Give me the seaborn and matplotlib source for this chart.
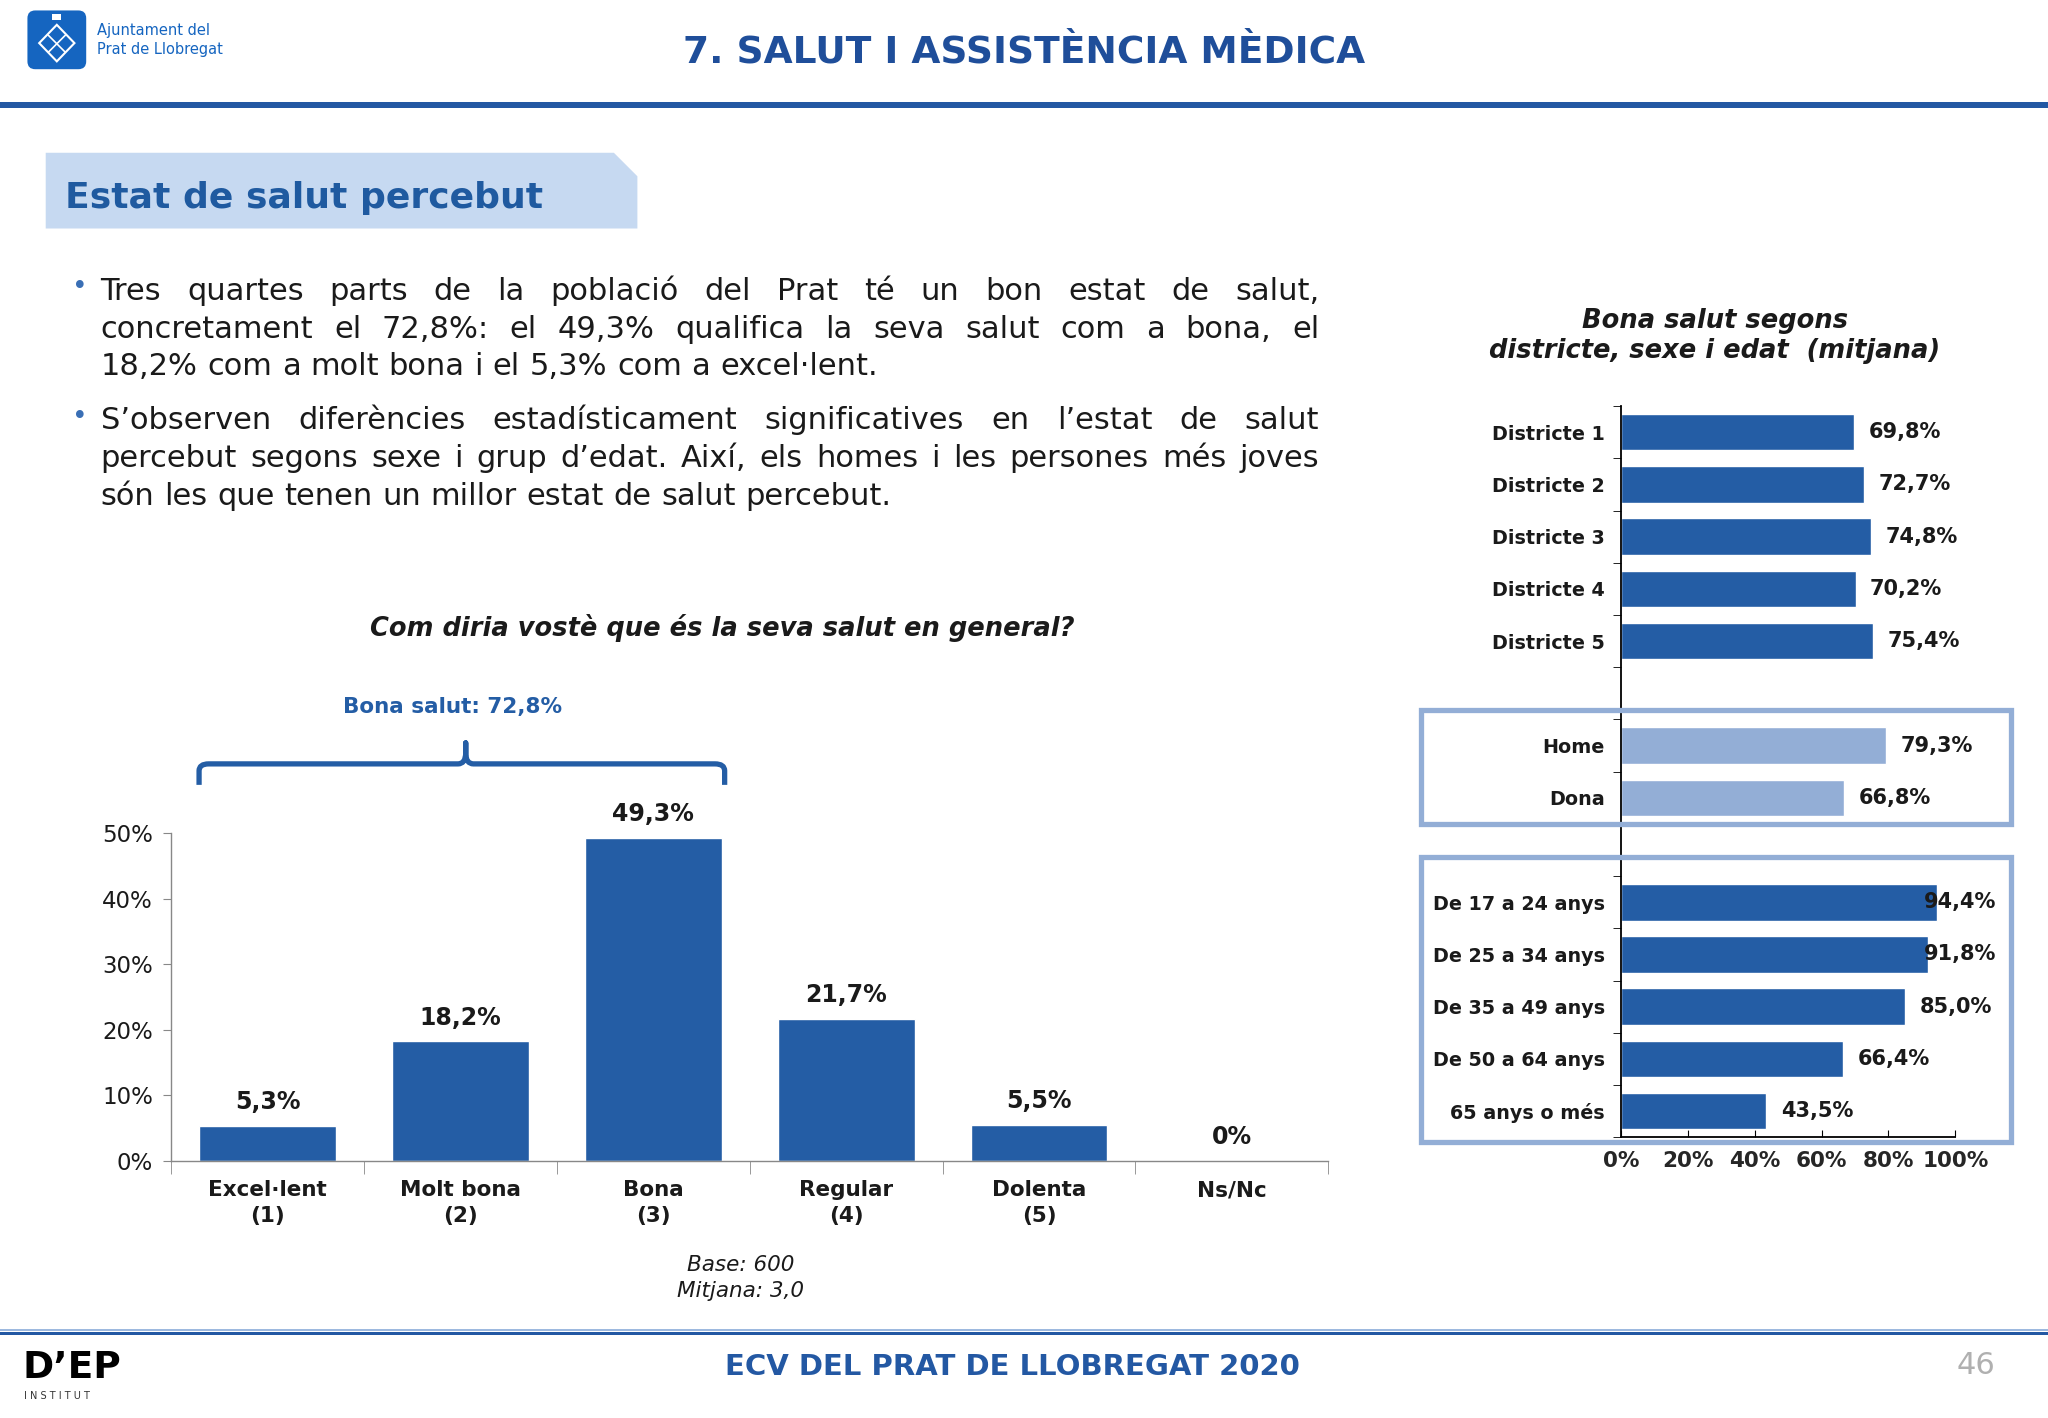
import numpy as np
import pandas as pd
import matplotlib
matplotlib.use('Agg')
import matplotlib.pyplot as plt
import seaborn as sns
from matplotlib.patches import Polygon, Rectangle, FancyBboxPatch, PathPatch
from matplotlib.path import Path
from matplotlib.transforms import blended_transform_factory
from matplotlib.ticker import FuncFormatter

# --- Data ---
categories = ['Excel·lent\n(1)', 'Molt bona\n(2)', 'Bona\n(3)', 'Regular\n(4)', 'Dolenta\n(5)', 'Ns/Nc']
pcts = [5.3, 18.2, 49.3, 21.7, 5.5, 0.0]

grups = ['Districte 1', 'Districte 2', 'Districte 3', 'Districte 4', 'Districte 5',
         'Home', 'Dona',
         'De 17 a 24 anys', 'De 25 a 34 anys', 'De 35 a 49 anys', 'De 50 a 64 anys', '65 anys o més']
bona_salut = [69.8, 72.7, 74.8, 70.2, 75.4, 79.3, 66.8, 94.4, 91.8, 85.0, 66.4, 43.5]
tipus = ['districte'] * 5 + ['sexe'] * 2 + ['edat'] * 5
ordre = grups[:5] + [' '] + grups[5:7] + ['  '] + grups[7:]

BLUE = '#245DA5'
LIGHT = '#93AED6'
DARK = '#1F4E9A'
TXT = '#1a1a1a'

W, H = 1568, 1086  # layout units (reference scaled)

sns.set_style('white')
plt.rcParams['font.family'] = ['DejaVu Sans']

fig = plt.figure(figsize=(20.48, 14.18), dpi=100)
bg = fig.add_axes([0, 0, 1, 1], zorder=0)
bg.set_xlim(0, W)
bg.set_ylim(H, 0)
bg.axis('off')

top = fig.add_axes([0, 0, 1, 1], zorder=5)
top.set_xlim(0, W)
top.set_ylim(H, 0)
top.axis('off')

# --- Header ---
bg.add_patch(FancyBboxPatch((21, 8), 45, 45, boxstyle='round,pad=0,rounding_size=6',
                            fc='#1565C0', ec='none'))
bg.add_patch(Polygon([(43.5, 19), (57, 33), (43.5, 47), (30, 33)], closed=True,
                     fill=False, ec='white', lw=1.5))
bg.plot([37, 50], [27, 40], color='white', lw=1.2)
bg.plot([50, 37], [27, 40], color='white', lw=1.2)
bg.add_patch(Rectangle((40, 11), 7, 4, fc='white', ec='none'))
bg.text(74, 23, 'Ajuntament del', fontsize=10.5, color='#1565C0', va='center')
bg.text(74, 38, 'Prat de Llobregat', fontsize=10.5, color='#1565C0', va='center')
bg.text(784, 40, '7. SALUT I ASSISTÈNCIA MÈDICA', ha='center', va='center',
        fontsize=27, fontweight='bold', color=DARK)
bg.add_patch(Rectangle((0, 78), W, 5, fc='#2358A3', ec='none'))

bg.add_patch(Polygon([(35, 117), (470, 117), (488, 135), (488, 175), (35, 175)],
                     closed=True, fc='#C6D9F1', ec='none'))
bg.text(50, 152, 'Estat de salut percebut', fontsize=26, fontweight='bold',
        color='#1F5AA0', va='center')

# --- Bullet text (justified) ---
renderer = fig.canvas.get_renderer()
scale = W / (fig.get_figwidth() * fig.dpi)
FS = 22


def text_width(s, fs):
    t = bg.text(0, 500, s, fontsize=fs)
    w = t.get_window_extent(renderer).width * scale
    t.remove()
    return w


def write_line(text, y, x0=77, x1=1010, justify=True, fs=FS):
    words = text.split(' ')
    objs = [bg.text(0, y, w, fontsize=fs, color=TXT, va='center') for w in words]
    widths = [o.get_window_extent(renderer).width * scale for o in objs]
    if justify and len(words) > 1:
        gap = (x1 - x0 - sum(widths)) / (len(words) - 1)
    else:
        gap = text_width('a b', fs) - text_width('ab', fs)
    x = x0
    for o, w in zip(objs, widths):
        o.set_x(x)
        x += w + gap


para1 = ['Tres quartes parts de la població del Prat té un bon estat de salut,',
         'concretament el 72,8%: el 49,3% qualifica la seva salut com a bona, el',
         '18,2% com a molt bona i el 5,3% com a excel·lent.']
para2 = ['S’observen diferències estadísticament significatives en l’estat de salut',
         'percebut segons sexe i grup d’edat. Així, els homes i les persones més joves',
         'són les que tenen un millor estat de salut percebut.']
for para, y0 in [(para1, 222), (para2, 321)]:
    bg.text(55, y0 - 2, '•', fontsize=19, color='#3A6FB5', va='center')
    for k, line in enumerate(para):
        write_line(line, y0 + 1 + 29 * k, justify=(k < len(para) - 1))

# --- Left chart ---
bg.text(553, 481, 'Com diria vostè que és la seva salut en general?', ha='center', va='center',
        fontsize=18.5, fontweight='bold', fontstyle='italic', color=TXT)
bg.text(567, 969, 'Base: 600', ha='center', va='center', fontsize=15.5, fontstyle='italic', color=TXT)
bg.text(567, 989, 'Mitjana: 3,0', ha='center', va='center', fontsize=15.5, fontstyle='italic', color=TXT)

axl = fig.add_axes([131 / W, 1 - 889 / H, 886 / W, 251 / H], zorder=1)
sns.barplot(x=categories, y=pcts, color=BLUE, saturation=1, width=0.71, errorbar=None, ax=axl)
axl.set_xlim(-0.5, len(categories) - 0.5)
axl.set_ylim(0, 50)
axl.set_facecolor('none')
for s in ['top', 'right']:
    axl.spines[s].set_visible(False)
for s in ['left', 'bottom']:
    axl.spines[s].set_color('#888888')
    axl.spines[s].set_linewidth(1)
axl.set_yticks(np.arange(0, 51, 10))
axl.yaxis.set_major_formatter(FuncFormatter(lambda v, p: f'{v:.0f}%'))
axl.tick_params(axis='y', direction='out', length=6, color='#888888', labelsize=16.5,
                labelcolor=TXT, pad=7, left=True)
axl.set_xticks(range(len(categories)))
axl.set_xticklabels(categories, fontweight='bold', fontsize=15.5, color=TXT, linespacing=1.35)
axl.set_xticks(np.arange(-0.5, len(categories)), minor=True)
axl.tick_params(axis='x', which='major', length=0, pad=14)
axl.tick_params(axis='x', which='minor', direction='out', length=9, color='#888888', bottom=True)
axl.set_xlabel('')
axl.set_ylabel('')
for i, v in enumerate(pcts):
    lab = '0%' if v == 0 else f'{v:.1f}'.replace('.', ',') + '%'
    axl.text(i, v + 3.6, lab, ha='center', va='center', fontsize=17, fontweight='bold',
             color=TXT, clip_on=False)

# bracket over the "bona salut" bars
tr = blended_transform_factory(axl.transData, axl.transAxes)
L, R = 0 - 0.355, 2 + 0.37
A = (L + R) / 2 + 0.02
yb, yh, ya = 1.147, 1.211, 1.275
verts = [(L, yb), (L, 1.19), (L, yh), (L + 0.05, yh), (A - 0.04, yh), (A, yh), (A, 1.245),
         (A, ya), (A, 1.245), (A, yh), (A + 0.04, yh), (R - 0.05, yh), (R, yh), (R, 1.19), (R, yb)]
codes = [Path.MOVETO, Path.LINETO, Path.CURVE3, Path.CURVE3, Path.LINETO, Path.CURVE3, Path.CURVE3,
         Path.LINETO, Path.LINETO, Path.CURVE3, Path.CURVE3, Path.LINETO, Path.CURVE3, Path.CURVE3,
         Path.LINETO]
axl.add_patch(PathPatch(Path(verts, codes), fill=False, ec=BLUE, lw=3.8, transform=tr,
                        clip_on=False, capstyle='butt', joinstyle='round'))
axl.text(0.96, 1.386, 'Bona salut: 72,8%', transform=tr, ha='center', va='center',
         fontsize=15.5, fontweight='bold', color=BLUE, clip_on=False)

# --- Right chart ---
bg.text(1313, 257, 'Bona salut segons\ndistricte, sexe i edat  (mitjana)', ha='center', va='center',
        fontsize=18.5, fontweight='bold', fontstyle='italic', color=TXT, linespacing=1.2)

df = pd.DataFrame({'grup': grups, 'valor': bona_salut, 'tipus': tipus})
axr = fig.add_axes([1241 / W, 1 - 871 / H, 256 / W, 560 / H], zorder=1)
sns.barplot(data=df, x='valor', y='grup', hue='tipus', order=ordre,
            palette={'districte': BLUE, 'sexe': LIGHT, 'edat': BLUE}, saturation=1,
            width=0.7, errorbar=None, legend=False, dodge=False, ax=axr)
axr.set_facecolor('none')
axr.set_xlim(0, 100)
axr.set_ylim(len(ordre) - 0.5, -0.5)
for s in ['top', 'right']:
    axr.spines[s].set_visible(False)
for s in ['left', 'bottom']:
    axr.spines[s].set_color('black')
    axr.spines[s].set_linewidth(1.3)
pos = [ordre.index(g) for g in grups]
axr.set_yticks(pos)
axr.set_yticklabels(grups, fontweight='bold', fontsize=13.8, color=TXT)
axr.set_yticks(np.arange(-0.5, len(ordre)), minor=True)
axr.tick_params(axis='y', which='major', length=0, pad=11.5)
axr.tick_params(axis='y', which='minor', direction='out', length=6, color='black', left=True)
axr.set_xticks(np.arange(0, 101, 20))
axr.xaxis.set_major_formatter(FuncFormatter(lambda v, p: f'{v:.0f}%'))
axr.tick_params(axis='x', direction='in', length=5, color='black', labelsize=15.5,
                pad=10, bottom=True)
for t in axr.get_xticklabels():
    t.set_fontweight('bold')
axr.set_xlabel('')
axr.set_ylabel('')
for p, v in zip(pos, bona_salut):
    axr.text(min(v + 4.3, 90.6), p, f'{v:.1f}'.replace('.', ',') + '%', ha='left', va='center',
             fontsize=15, fontweight='bold', color=TXT, clip_on=False)

top.add_patch(Rectangle((1088, 544), 452, 87, fill=False, ec=LIGHT, lw=3.8))
top.add_patch(Rectangle((1088, 656), 452, 219, fill=False, ec=LIGHT, lw=3.8))

# --- Footer ---
bg.add_patch(Rectangle((0, 1018), W, 1.5, fc='#9DB9DF', ec='none'))
bg.add_patch(Rectangle((0, 1020), W, 2.5, fc='#2358A3', ec='none'))
bg.text(775, 1047, 'ECV DEL PRAT DE LLOBREGAT 2020', ha='center', va='center',
        fontsize=21, fontweight='bold', color='#2358A3')
bg.text(1513, 1046, '46', ha='center', va='center', fontsize=22, color='#B0B0B0')
bg.text(17, 1048, 'D’EP', fontsize=27, fontweight='heavy', color='black', va='center')
bg.text(18, 1069, 'I N S T I T U T', fontsize=7, color='#333333', va='center')

fig.savefig('out.png', dpi=100)
